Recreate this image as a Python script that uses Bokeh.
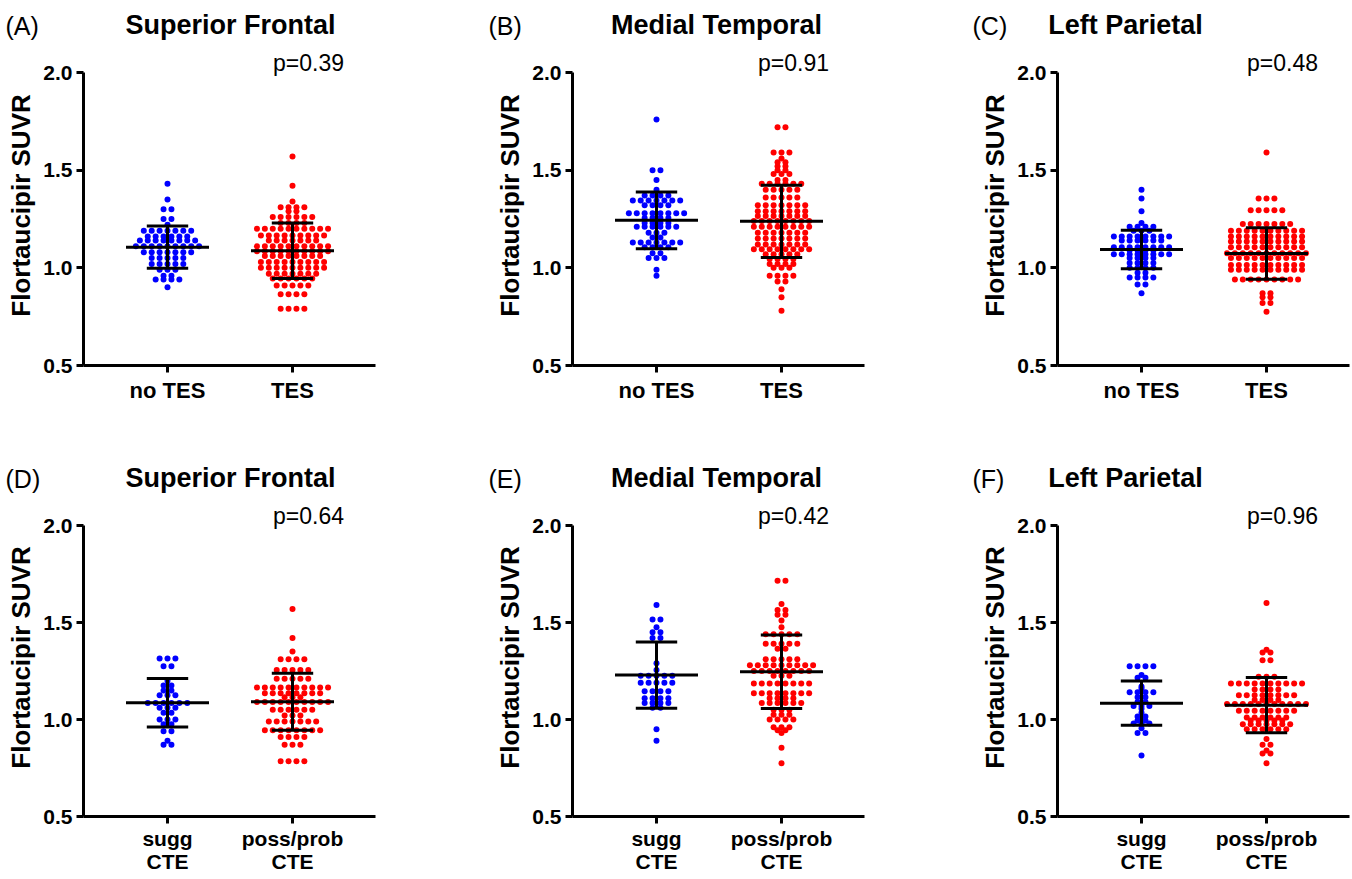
import numpy as np
from bokeh.plotting import figure
from bokeh.models import Range1d, Label, FixedTicker, PrintfTickFormatter
from bokeh.layouts import column, row
from bokeh.embed import file_html
from bokeh.resources import INLINE

FONT = "Liberation Sans"
BLUE = "#0000FF"
RED = "#FF0000"

letters = ["(A)", "(B)", "(C)", "(D)", "(E)", "(F)"]
titles = ["Superior Frontal", "Medial Temporal", "Left Parietal",
          "Superior Frontal", "Medial Temporal", "Left Parietal"]
pvalues = ["p=0.39", "p=0.91", "p=0.48", "p=0.64", "p=0.42", "p=0.96"]
cats_top = ["no TES", "TES"]
cats_bottom = ["sugg\nCTE", "poss/prob\nCTE"]
y_ticks = [0.5, 1.0, 1.5, 2.0]

# dot values, read as (value, number of dots at that value)
A_blue = [(1.43, 1), (1.35, 1), (1.30, 2), (1.25, 2), (1.22, 1), (1.19, 7), (1.16, 6), (1.14, 8),
          (1.11, 9), (1.08, 7), (1.05, 5), (1.02, 5), (0.99, 3), (0.96, 2), (0.94, 4), (0.90, 1)]
A_red = [(1.57, 1), (1.42, 1), (1.34, 1), (1.31, 4), (1.29, 2), (1.26, 6), (1.23, 4), (1.20, 10),
         (1.165, 9), (1.14, 7), (1.11, 10), (1.085, 10), (1.06, 8), (1.03, 9), (1.00, 9), (0.97, 7),
         (0.945, 6), (0.91, 5), (0.865, 4), (0.79, 4)]
B_blue = [(1.76, 1), (1.50, 2), (1.45, 1), (1.40, 1), (1.37, 4), (1.345, 7), (1.32, 4), (1.28, 8),
          (1.255, 4), (1.23, 4), (1.21, 6), (1.18, 3), (1.155, 2), (1.13, 7), (1.105, 4), (1.075, 2),
          (1.05, 3), (0.99, 1), (0.96, 1)]
B_red = [(1.72, 2), (1.59, 3), (1.56, 1), (1.54, 2), (1.52, 2), (1.50, 2), (1.48, 3), (1.45, 2),
         (1.43, 6), (1.40, 5), (1.36, 5), (1.32, 7), (1.29, 7), (1.265, 7), (1.24, 8), (1.21, 8),
         (1.18, 7), (1.15, 7), (1.12, 7), (1.095, 8), (1.07, 5), (1.045, 4), (1.02, 4), (1.00, 3),
         (0.96, 4), (0.93, 2), (0.89, 1), (0.85, 1), (0.78, 1)]
C_blue = [(1.40, 1), (1.355, 1), (1.29, 1), (1.23, 1), (1.21, 4), (1.19, 3), (1.16, 8), (1.14, 6),
          (1.105, 8), (1.09, 4), (1.07, 8), (1.05, 4), (1.025, 4), (1.00, 4), (0.975, 2), (0.95, 4),
          (0.915, 2), (0.87, 1)]
C_red = [(1.59, 1), (1.355, 3), (1.295, 5), (1.225, 7), (1.19, 10), (1.16, 10), (1.135, 10),
         (1.105, 10), (1.075, 11), (1.05, 10), (1.015, 10), (0.99, 10), (0.94, 9), (0.87, 2),
         (0.85, 2), (0.82, 2), (0.775, 1)]
D_blue = [(1.315, 3), (1.275, 2), (1.20, 1), (1.175, 2), (1.15, 2), (1.125, 3), (1.085, 6),
          (1.06, 3), (1.035, 2), (1.00, 3), (0.975, 2), (0.94, 2), (0.89, 1), (0.87, 2)]
D_red = [(1.57, 1), (1.42, 1), (1.35, 1), (1.31, 4), (1.255, 5), (1.21, 5), (1.165, 10), (1.135, 8),
         (1.115, 3), (1.09, 10), (1.05, 6), (1.02, 3), (0.99, 7), (0.945, 8), (0.91, 4), (0.87, 3),
         (0.785, 4)]
E_blue = [(1.59, 1), (1.515, 2), (1.475, 1), (1.45, 2), (1.42, 2), (1.29, 1), (1.255, 1), (1.225, 5),
          (1.19, 5), (1.145, 4), (1.11, 4), (1.085, 4), (1.06, 2), (0.95, 1), (0.89, 1)]
E_red = [(1.715, 2), (1.595, 1), (1.565, 2), (1.54, 2), (1.51, 1), (1.475, 1), (1.44, 5), (1.39, 5),
         (1.365, 2), (1.31, 5), (1.28, 9), (1.25, 8), (1.225, 3), (1.185, 8), (1.135, 8), (1.11, 4),
         (1.085, 6), (1.05, 3), (1.025, 3), (1.00, 4), (0.96, 3), (0.945, 2), (0.93, 1), (0.855, 1),
         (0.775, 1)]
F_blue = [(1.275, 4), (1.23, 1), (1.215, 2), (1.17, 1), (1.16, 1), (1.14, 4), (1.115, 2), (1.09, 2),
          (1.07, 3), (1.055, 1), (1.035, 1), (1.015, 2), (0.995, 2), (0.98, 3), (0.955, 1), (0.93, 2),
          (0.815, 1)]
F_red = [(1.60, 1), (1.36, 1), (1.345, 2), (1.305, 2), (1.22, 3), (1.185, 10), (1.155, 4), (1.125, 8),
         (1.10, 4), (1.08, 11), (1.045, 8), (1.01, 6), (0.995, 5), (0.975, 7), (0.95, 6), (0.90, 1),
         (0.87, 2), (0.84, 1), (0.825, 2), (0.775, 1)]

blue_groups = [A_blue, B_blue, C_blue, D_blue, E_blue, F_blue]
red_groups = [A_red, B_red, C_red, D_red, E_red, F_red]

# mean and SD
blue_mean = [1.106, 1.243, 1.094, 1.086, 1.229, 1.084]
blue_sd = [0.108, 0.145, 0.099, 0.125, 0.171, 0.114]
red_mean = [1.088, 1.238, 1.073, 1.091, 1.246, 1.074]
red_sd = [0.142, 0.185, 0.132, 0.147, 0.189, 0.142]

# ---- layout constants (pixels) ----
FIG_W = [489, 485, 376]
TOTAL_W = sum(FIG_W)
LEFT = 83
FRAME_W = 292
HEADER_H = 45
ABOVE = 27                       # frame space above the 2.0 tick
AXIS_H = [293, 291]              # pixels from 0.5 to 2.0
BOTTOM = [88, 62]
PPX = 125.0                      # px per x unit
X0 = 1 - 84 / PPX
X1 = X0 + FRAME_W / PPX
DOT_SPACING = 7.9
MEAN_HALF = 41.5
CAP_HALF = 20.7

letter_dx = [-78, -84, -85]
title_dx = [147, 144, 68]
p_dx = [225, 221, 225]
letter_y = 25
title_y = 24
p_above = 10

frame_left = [sum(FIG_W[:c]) + LEFT for c in range(3)]


def dots(rows_, center):
    xs, ys = [], []
    for v, n in rows_:
        for k in range(n):
            xs.append(center + (k - (n - 1) / 2) * DOT_SPACING / PPX)
            ys.append(v)
    return xs, ys


def header(r):
    h = figure(width=TOTAL_W, height=HEADER_H, x_range=Range1d(0, TOTAL_W),
               y_range=Range1d(HEADER_H, 0), output_backend="svg", toolbar_location=None,
               x_axis_location=None, y_axis_location=None,
               min_border_left=0, min_border_right=0, min_border_top=0, min_border_bottom=0)
    h.outline_line_color = None
    h.grid.visible = False
    for c in range(3):
        i = r * 3 + c
        h.add_layout(Label(x=frame_left[c] + letter_dx[c], y=letter_y, text=letters[i],
                           text_font=FONT, text_font_size="25px", text_align="left",
                           text_baseline="middle", text_color="black"))
        h.add_layout(Label(x=frame_left[c] + title_dx[c], y=title_y, text=titles[i],
                           text_font=FONT, text_font_size="27px", text_font_style="bold",
                           text_align="center", text_baseline="middle", text_color="black"))
    return h


def panel(i):
    r, c = divmod(i, 3)
    fw = FIG_W[c]
    ppy = AXIS_H[r] / 1.5
    frame_h = AXIS_H[r] + ABOVE
    fh = frame_h + BOTTOM[r]
    ytop = 2.0 + ABOVE / ppy
    p = figure(width=fw, height=fh, x_range=Range1d(X0, X1), y_range=Range1d(0.5, ytop),
               output_backend="svg", toolbar_location=None,
               min_border_left=LEFT, min_border_right=fw - LEFT - FRAME_W,
               min_border_top=0, min_border_bottom=BOTTOM[r])
    p.outline_line_color = None
    p.grid.visible = False

    for ax in (p.xaxis[0], p.yaxis[0]):
        ax.axis_line_width = 3
        ax.axis_line_color = "black"
        ax.major_tick_line_width = 3
        ax.major_tick_out = 7
        ax.major_tick_in = 0
        ax.minor_tick_line_color = None
        ax.major_label_text_font = FONT
        ax.major_label_text_font_style = "bold"
        ax.major_label_text_color = "black"

    p.yaxis.major_label_text_font_size = "21px"
    p.yaxis.ticker = FixedTicker(ticks=y_ticks)
    p.yaxis.bounds = (0.5, 2.0)
    p.yaxis.formatter = PrintfTickFormatter(format="%.1f")
    p.yaxis.major_label_standoff = 4
    p.yaxis.axis_label = "Flortaucipir SUVR"
    p.yaxis.axis_label_text_font = FONT
    p.yaxis.axis_label_text_font_style = "bold"
    p.yaxis.axis_label_text_font_size = "26px"
    p.yaxis.axis_label_text_color = "black"
    p.yaxis.axis_label_standoff = 4

    cats = cats_top if r == 0 else cats_bottom
    p.xaxis.ticker = FixedTicker(ticks=[1, 2])
    p.xaxis.major_label_overrides = {1: cats[0], 2: cats[1]}
    p.xaxis.major_label_standoff = 5 if r == 0 else 3
    p.xaxis.major_label_text_font_size = "22px" if r == 0 else "21px"
    p.xaxis.major_label_text_line_height = 1.0

    bx, by = dots(blue_groups[i], 1)
    rx, ry = dots(red_groups[i], 2)
    p.scatter(bx, by, size=6, color=BLUE, line_color=None)
    p.scatter(rx, ry, size=6, color=RED, line_color=None)

    mh = MEAN_HALF / PPX
    ch = CAP_HALF / PPX
    for cx, m, s in ((1, blue_mean[i], blue_sd[i]), (2, red_mean[i], red_sd[i])):
        p.segment(x0=[cx - mh, cx - ch, cx - ch, cx], y0=[m, m + s, m - s, m - s],
                  x1=[cx + mh, cx + ch, cx + ch, cx], y1=[m, m + s, m - s, m + s],
                  line_color="black", line_width=3)

    p.add_layout(Label(x=X0 + p_dx[c] / PPX, y=2.0 + p_above / ppy, text=pvalues[i],
                       text_font=FONT, text_font_size="23px", text_align="center",
                       text_baseline="middle", text_color="black"))
    return p


layout = column(header(0), row(*[panel(i) for i in range(3)]),
                header(1), row(*[panel(i) for i in range(3, 6)]))

open("out.html", "w").write(file_html(layout, INLINE))
